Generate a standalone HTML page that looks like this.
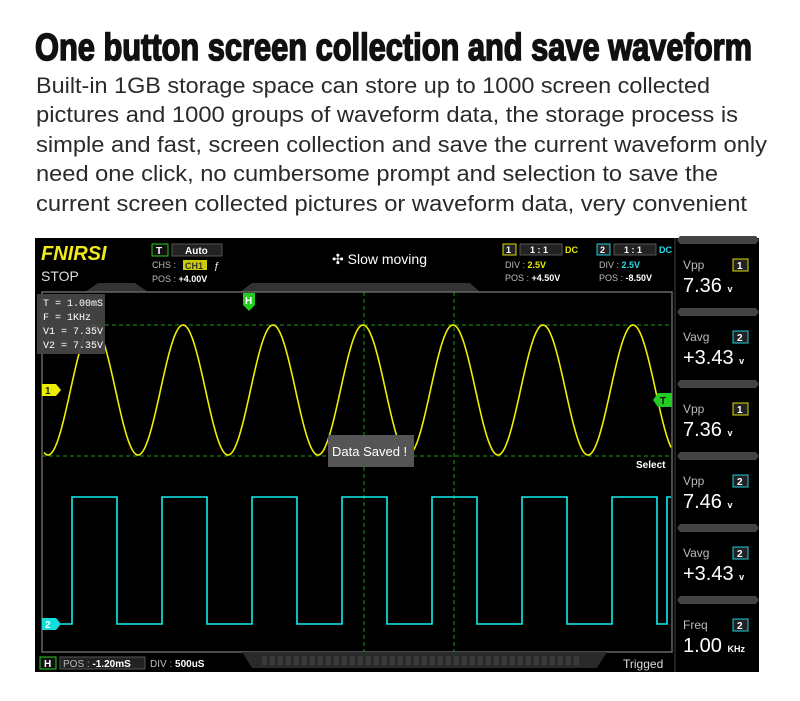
<!DOCTYPE html>
<html><head><meta charset="utf-8"><style>
html,body{margin:0;padding:0;background:#fff;width:800px;height:701px;overflow:hidden}
svg{display:block}
</style></head><body>
<svg id="s" width="800" height="701" viewBox="0 0 800 701" xmlns="http://www.w3.org/2000/svg" font-family="Liberation Sans, sans-serif">
<text x="35" y="60" font-size="38" font-weight="bold" fill="#111" stroke="#111" stroke-width="1.6" textLength="717" lengthAdjust="spacingAndGlyphs" font-family="Liberation Sans Narrow, Liberation Sans, sans-serif">One button screen collection and save waveform</text>
<g font-size="22" fill="#2a2a2a">
<text x="36" y="93" textLength="674" lengthAdjust="spacingAndGlyphs">Built-in 1GB storage space can store up to 1000 screen collected</text>
<text x="36" y="122" textLength="702" lengthAdjust="spacingAndGlyphs">pictures and 1000 groups of waveform data, the storage process is</text>
<text x="36" y="152" textLength="731" lengthAdjust="spacingAndGlyphs">simple and fast, screen collection and save the current waveform only</text>
<text x="36" y="181" textLength="682" lengthAdjust="spacingAndGlyphs">need one click, no cumbersome prompt and selection to save the</text>
<text x="36" y="211" textLength="711" lengthAdjust="spacingAndGlyphs">current screen collected pictures or waveform data, very convenient</text>
</g>
<rect x="35" y="238" width="724" height="434" fill="#000"/>
<text x="41" y="260" font-size="20" font-weight="bold" font-style="italic" fill="#f0e81a">FNIRSI</text>
<text x="41" y="281" font-size="14" fill="#ddd">STOP</text>
<rect x="152" y="244" width="16" height="12" fill="#111" stroke="#2c2"/><text x="156" y="254" font-size="10" fill="#fff" font-weight="bold">T</text>
<rect x="172" y="244" width="50" height="12" fill="#222" stroke="#555"/><text x="185" y="254" font-size="10" fill="#fff" font-weight="bold">Auto</text>
<text x="152" y="268" font-size="9" fill="#bbb">CHS :</text><rect x="183" y="260" width="24" height="10" fill="#cc0"/><text x="185" y="269" font-size="9" font-weight="bold" fill="#333">CH1</text><text x="214" y="269" font-size="10" fill="#fff">ƒ</text>
<text x="152" y="282" font-size="9" fill="#bbb">POS : <tspan fill="#fff" font-weight="bold">+4.00V</tspan></text>
<text x="332" y="264" font-size="14" fill="#fff">✣ Slow moving</text>
<rect x="503" y="244" width="13" height="11" fill="#222" stroke="#dd0"/><text x="506" y="253" font-size="9" fill="#fff" font-weight="bold">1</text>
<rect x="520" y="244" width="42" height="11" fill="#222" stroke="#555"/><text x="530" y="253" font-size="9" fill="#fff" font-weight="bold">1 : 1</text><text x="565" y="253" font-size="9" fill="#ee0" font-weight="bold">DC</text>
<text x="505" y="268" font-size="9" fill="#bbb">DIV :  <tspan fill="#ee0" font-weight="bold">2.5V</tspan></text>
<text x="505" y="281" font-size="9" fill="#bbb">POS : <tspan fill="#fff" font-weight="bold">+4.50V</tspan></text>
<rect x="597" y="244" width="13" height="11" fill="#222" stroke="#2cd"/><text x="600" y="253" font-size="9" fill="#fff" font-weight="bold">2</text>
<rect x="614" y="244" width="42" height="11" fill="#222" stroke="#555"/><text x="624" y="253" font-size="9" fill="#fff" font-weight="bold">1 : 1</text><text x="659" y="253" font-size="9" fill="#2de" font-weight="bold">DC</text>
<text x="599" y="268" font-size="9" fill="#bbb">DIV :  <tspan fill="#2de" font-weight="bold">2.5V</tspan></text>
<text x="599" y="281" font-size="9" fill="#bbb">POS : <tspan fill="#fff" font-weight="bold">-8.50V</tspan></text>
<path d="M85 292 L98 283 L135 283 L148 292 Z M240 292 L252 283 L470 283 L480 292Z" fill="#333"/>
<rect x="42" y="292" width="630" height="360" fill="none" stroke="#666" stroke-width="1.5"/>
<g stroke="#1a9a1a" stroke-width="1" stroke-dasharray="4,3">
<line x1="42" y1="325" x2="672" y2="325"/><line x1="42" y1="456" x2="672" y2="456"/>
<line x1="364" y1="292" x2="364" y2="652"/><line x1="454" y1="292" x2="454" y2="652"/>
</g>
<path id="sine" fill="none" stroke="#ee0" stroke-width="1.6"/>
<path id="sq" fill="none" stroke="#1ee" stroke-width="1.6"/>
<rect x="37" y="294" width="68" height="60" fill="#444" opacity="0.95"/>
<g font-family="Liberation Mono, monospace" font-size="10" fill="#fff">
<text x="43" y="306">T = 1.00mS</text><text x="43" y="320">F = 1KHz</text><text x="43" y="334">V1 = 7.35V</text><text x="43" y="348">V2 = 7.35V</text></g>
<path d="M243 293 h12 v12 l-6 6 l-6 -6z" fill="#2c2"/><text x="245" y="304" font-size="10" fill="#fff" font-weight="bold">H</text>
<path d="M42 384 h14 l5 6 l-5 6 h-14z" fill="#ee0"/><text x="45" y="394" font-size="10" fill="#222" font-weight="bold">1</text>
<path d="M42 618 h14 l5 6 l-5 6 h-14z" fill="#1dd"/><text x="45" y="628" font-size="10" fill="#fff" font-weight="bold">2</text>
<path d="M672 393 h-14 l-5 7 l5 7 h14z" fill="#2c2"/><text x="660" y="404" font-size="10" fill="#111" font-weight="bold">T</text>
<text x="636" y="468" font-size="10" fill="#fff" font-weight="bold">Select</text>
<rect x="328" y="435" width="86" height="32" fill="#555"/><text x="332" y="456" font-size="13" fill="#fff">Data Saved !</text>
<path d="M242 652 L607 652 L597 668 L252 668Z" fill="#2a2a2a"/>
<g id="ticks"></g>
<rect x="40" y="657" width="16" height="12" fill="#111" stroke="#2c2"/><text x="44" y="667" font-size="10" fill="#fff" font-weight="bold">H</text>
<rect x="60" y="657" width="85" height="12" fill="#222" stroke="#555"/><text x="63" y="667" font-size="10" fill="#bbb">POS : <tspan fill="#fff" font-weight="bold">-1.20mS</tspan></text>
<text x="150" y="667" font-size="10" fill="#bbb">DIV : <tspan fill="#fff" font-weight="bold">500uS</tspan></text>
<text x="623" y="668" font-size="12" fill="#ddd">Trigged</text>
<g id="rp"></g>
</svg>
<script>
var d="";for(var x=44;x<=671;x+=1){var y=390+65*Math.cos(2*Math.PI*(x-48)/90);d+=(x==44?"M":"L")+x+" "+y.toFixed(1)+" ";}
document.getElementById("sine").setAttribute("d",d);
var s="M42 624 ";for(var k=0;k<7;k++){var r=72+90*k,f=r+45;if(r>672)break;s+="L"+r+" 624 L"+r+" 497 L"+Math.min(f,671)+" 497 ";if(f<671)s+="L"+f+" 624 ";}
s+="L667 624 L667 497 L671 497";
document.getElementById("sq").setAttribute("d",s);
var t="";for(var x=262;x<580;x+=8)t+='<rect x="'+x+'" y="656" width="5" height="9" fill="#3a3a3a"/>';
document.getElementById("ticks").innerHTML=t;
var items=[["Vpp","1","7.36","v","#dd0"],["Vavg","2","+3.43","v","#2cd"],["Vpp","1","7.36","v","#dd0"],["Vpp","2","7.46","v","#2cd"],["Vavg","2","+3.43","v","#2cd"],["Freq","2","1.00","KHz","#2cd"]];
var h="";for(var i=0;i<6;i++){var b=238+72*i;var it=items[i];
h+='<path d="M680 '+(b-2)+' h76 l3 4 l-3 4 h-76 l-3 -4z" fill="#444"/>';
h+='<text x="683" y="'+(b+31)+'" font-size="12" fill="#bbb">'+it[0]+'</text>';
h+='<rect x="733" y="'+(b+21)+'" width="15" height="12" fill="#222" stroke="'+it[4]+'"/><text x="737" y="'+(b+31)+'" font-size="10" fill="#fff" font-weight="bold">'+it[1]+'</text>';
h+='<text x="683" y="'+(b+54)+'" font-size="20" fill="#fff">'+it[2]+' <tspan font-size="9" font-weight="bold">'+it[3]+'</tspan></text>';}
h+='<line x1="675" y1="238" x2="675" y2="672" stroke="#444"/>';
document.getElementById("rp").innerHTML=h;
</script>
</body></html>
